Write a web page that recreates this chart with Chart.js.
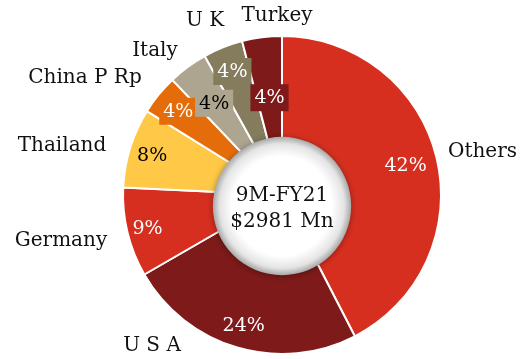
<!DOCTYPE html>
<html>
<head>
<meta charset="utf-8">
<script src="https://cdn.jsdelivr.net/npm/chart.js@4"></script>
<style>
  html, body { margin: 0; padding: 0; background: #fff; }
  #wrap { width: 521px; height: 359px; }
</style>
</head>
<body>
<div id="wrap"><canvas id="grafico"></canvas></div>
<script>
// Participação por país (%)
const paises = ["Others", "U S A", "Germany", "Thailand", "China P Rp", "Italy", "U K", "Turkey"];
const participacao = [42, 24, 9, 8, 4, 4, 4, 4];
const rotulos = participacao.map((v) => v + "%");
const centroTitulo = "9M-FY21";
const centroValor = "$2981 Mn";

const CORES = ["#D62F1F", "#7E1A1A", "#D62F1F", "#FFC947", "#E46C0A", "#ADA590", "#857C5E", "#7E1A1A"];
const CORES_TEXTO = ["#fff", "#fff", "#fff", "#000", "#fff", "#000", "#fff", "#fff"];

// raio do rótulo de % (fração do raio externo)
const RAIO_ROTULO = [0.8, 0.855, 0.87, 0.855, 0.84, 0.72, 0.84, 0.62];
// posição dos nomes em relação ao centro do gráfico
const POS_NOMES = [
  { dx: 166, dy: -43, align: "left" },
  { dx: -130, dy: 151, align: "center" },
  { dx: -221, dy: 46, align: "center" },
  { dx: -220, dy: -49, align: "center" },
  { dx: -197, dy: -117, align: "center" },
  { dx: -127, dy: -144, align: "center" },
  { dx: -77, dy: -174, align: "center" },
  { dx: -5, dy: -179, align: "center" },
];

const FONTE = '"DejaVu Serif", "Liberation Serif", serif';

const rotulosPlugin = {
  id: "rotulos",
  afterDatasetsDraw(chart) {
    const ctx = chart.ctx;
    const arcos = chart.getDatasetMeta(0).data;
    const cx = arcos[0].x;
    const cy = arcos[0].y;
    const raio = arcos[0].outerRadius;

    // círculo central
    const ccx = cx;
    const ccy = cy + 11;
    const cr = raio * 0.435;
    ctx.save();
    ctx.shadowColor = "rgba(0,0,0,0.35)";
    ctx.shadowBlur = 6;
    ctx.shadowOffsetY = 1;
    const grad = ctx.createRadialGradient(ccx, ccy, 0, ccx, ccy, cr);
    grad.addColorStop(0, "#ffffff");
    grad.addColorStop(0.72, "#ffffff");
    grad.addColorStop(0.9, "#e4e4e4");
    grad.addColorStop(1, "#a8a8a8");
    ctx.fillStyle = grad;
    ctx.beginPath();
    ctx.arc(ccx, ccy, cr, 0, Math.PI * 2);
    ctx.fill();
    ctx.restore();

    ctx.save();
    ctx.fillStyle = "#111";
    ctx.textAlign = "center";
    ctx.textBaseline = "middle";
    ctx.font = "20px " + FONTE;
    ctx.fillText(centroTitulo, ccx, ccy - 10);
    ctx.fillText(centroValor, ccx, ccy + 16);

    // rótulos de percentual (fatias pequenas ganham caixa com a cor da fatia)
    ctx.font = "19px " + FONTE;
    arcos.forEach((arco, i) => {
      const meio = (arco.startAngle + arco.endAngle) / 2;
      const r = raio * RAIO_ROTULO[i];
      const x = cx + Math.cos(meio) * r;
      const y = cy + Math.sin(meio) * r;
      if (participacao[i] <= 5) {
        const largura = ctx.measureText(rotulos[i]).width;
        ctx.fillStyle = CORES[i];
        ctx.fillRect(x - largura / 2 - 4, y - 13, largura + 8, 27);
      }
      ctx.fillStyle = CORES_TEXTO[i];
      ctx.fillText(rotulos[i], x, y + 1);
    });

    // nomes dos países
    ctx.font = "20px " + FONTE;
    ctx.fillStyle = "#111";
    paises.forEach((nome, i) => {
      const p = POS_NOMES[i];
      ctx.textAlign = p.align;
      ctx.fillText(nome, cx + p.dx, cy + p.dy);
    });
    ctx.restore();
  },
};

new Chart(document.getElementById("grafico"), {
  type: "pie",
  data: {
    labels: paises,
    datasets: [
      {
        data: participacao,
        backgroundColor: CORES,
        borderColor: "#fff",
        borderWidth: 2,
      },
    ],
  },
  options: {
    responsive: true,
    maintainAspectRatio: false,
    animation: false,
    layout: {
      padding: { left: 122, right: 79, top: 35, bottom: 4 },
    },
    plugins: {
      legend: { display: false },
      tooltip: { enabled: false },
    },
  },
  plugins: [rotulosPlugin],
});
</script>
</body>
</html>
